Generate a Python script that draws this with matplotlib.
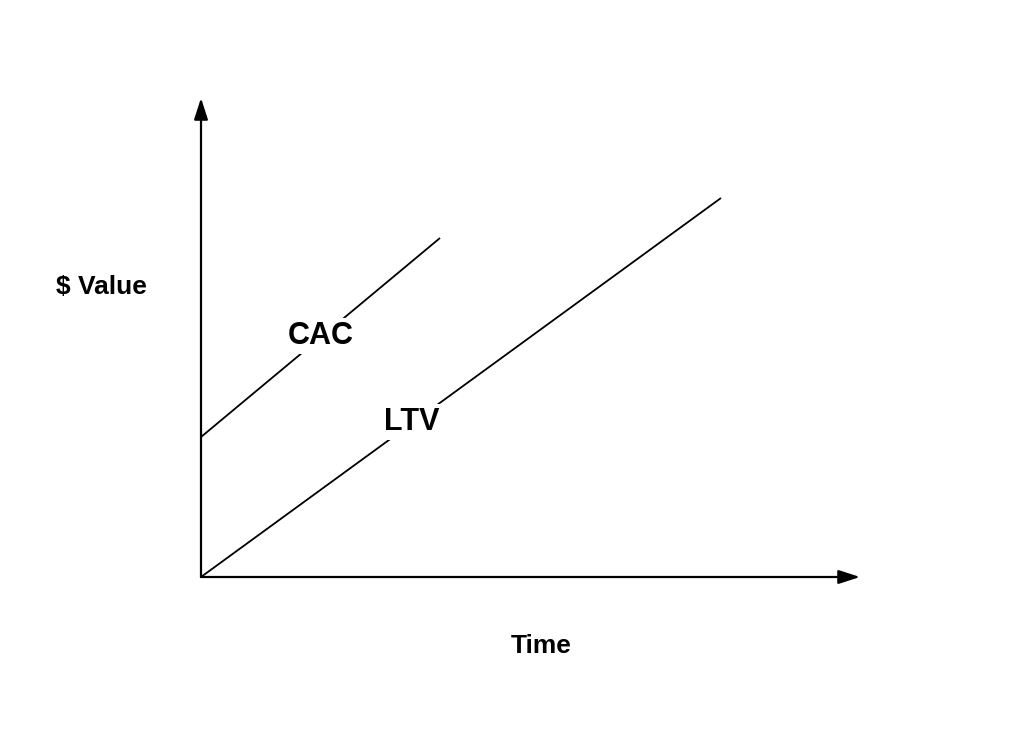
import numpy as np
import matplotlib
matplotlib.use("Agg")
import matplotlib.pyplot as plt

# Data (units: arbitrary, time vs $ value)
cac_time = [0.0, 4.78]
cac_value = [2.80, 6.78]
ltv_time = [0.0, 10.40]
ltv_value = [0.0, 7.58]
x_axis_max = 13.18
y_axis_max = 9.58
series_names = ["CAC", "LTV"]
label_time = [2.40, 4.22]
x_label = "Time"
y_label = "$ Value"

plt.rcParams['font.family'] = ['Liberation Sans', 'DejaVu Sans']

fig = plt.figure(figsize=(10.14, 7.30), dpi=100)
ax = fig.add_axes([0, 0, 1, 1])
ax.set_xlim(-4.02, 16.26)
ax.set_ylim(-3.06, 11.54)
ax.axis('off')

# axes with arrows
arrow_kw = dict(arrowstyle='-|>,head_length=1.3,head_width=0.42', mutation_scale=10,
                lw=1.6, color='black', shrinkA=0, shrinkB=0)
ax.annotate('', xy=(0, y_axis_max), xytext=(0, 0), arrowprops=arrow_kw)
ax.annotate('', xy=(x_axis_max, 0), xytext=(0, 0), arrowprops=arrow_kw)

# lines
ax.plot(cac_time, cac_value, color='black', lw=1.3, solid_capstyle='butt')
ax.plot(ltv_time, ltv_value, color='black', lw=1.3, solid_capstyle='butt')

# labels on lines
for name, t, xs, ys in zip(series_names, label_time, [cac_time, ltv_time], [cac_value, ltv_value]):
    v = np.interp(t, xs, ys)
    ax.text(t, v + 0.02, name, fontsize=22, fontweight='bold', ha='center', va='center',
            bbox=dict(boxstyle='square,pad=0.1', facecolor='white', edgecolor='none'), zorder=5)

ax.text(-2.0, 5.80, y_label, fontsize=19, fontweight='bold', ha='center', va='center')
ax.text(6.8, -1.38, x_label, fontsize=19, fontweight='bold', ha='center', va='center')

fig.savefig('out.png', dpi=100)
